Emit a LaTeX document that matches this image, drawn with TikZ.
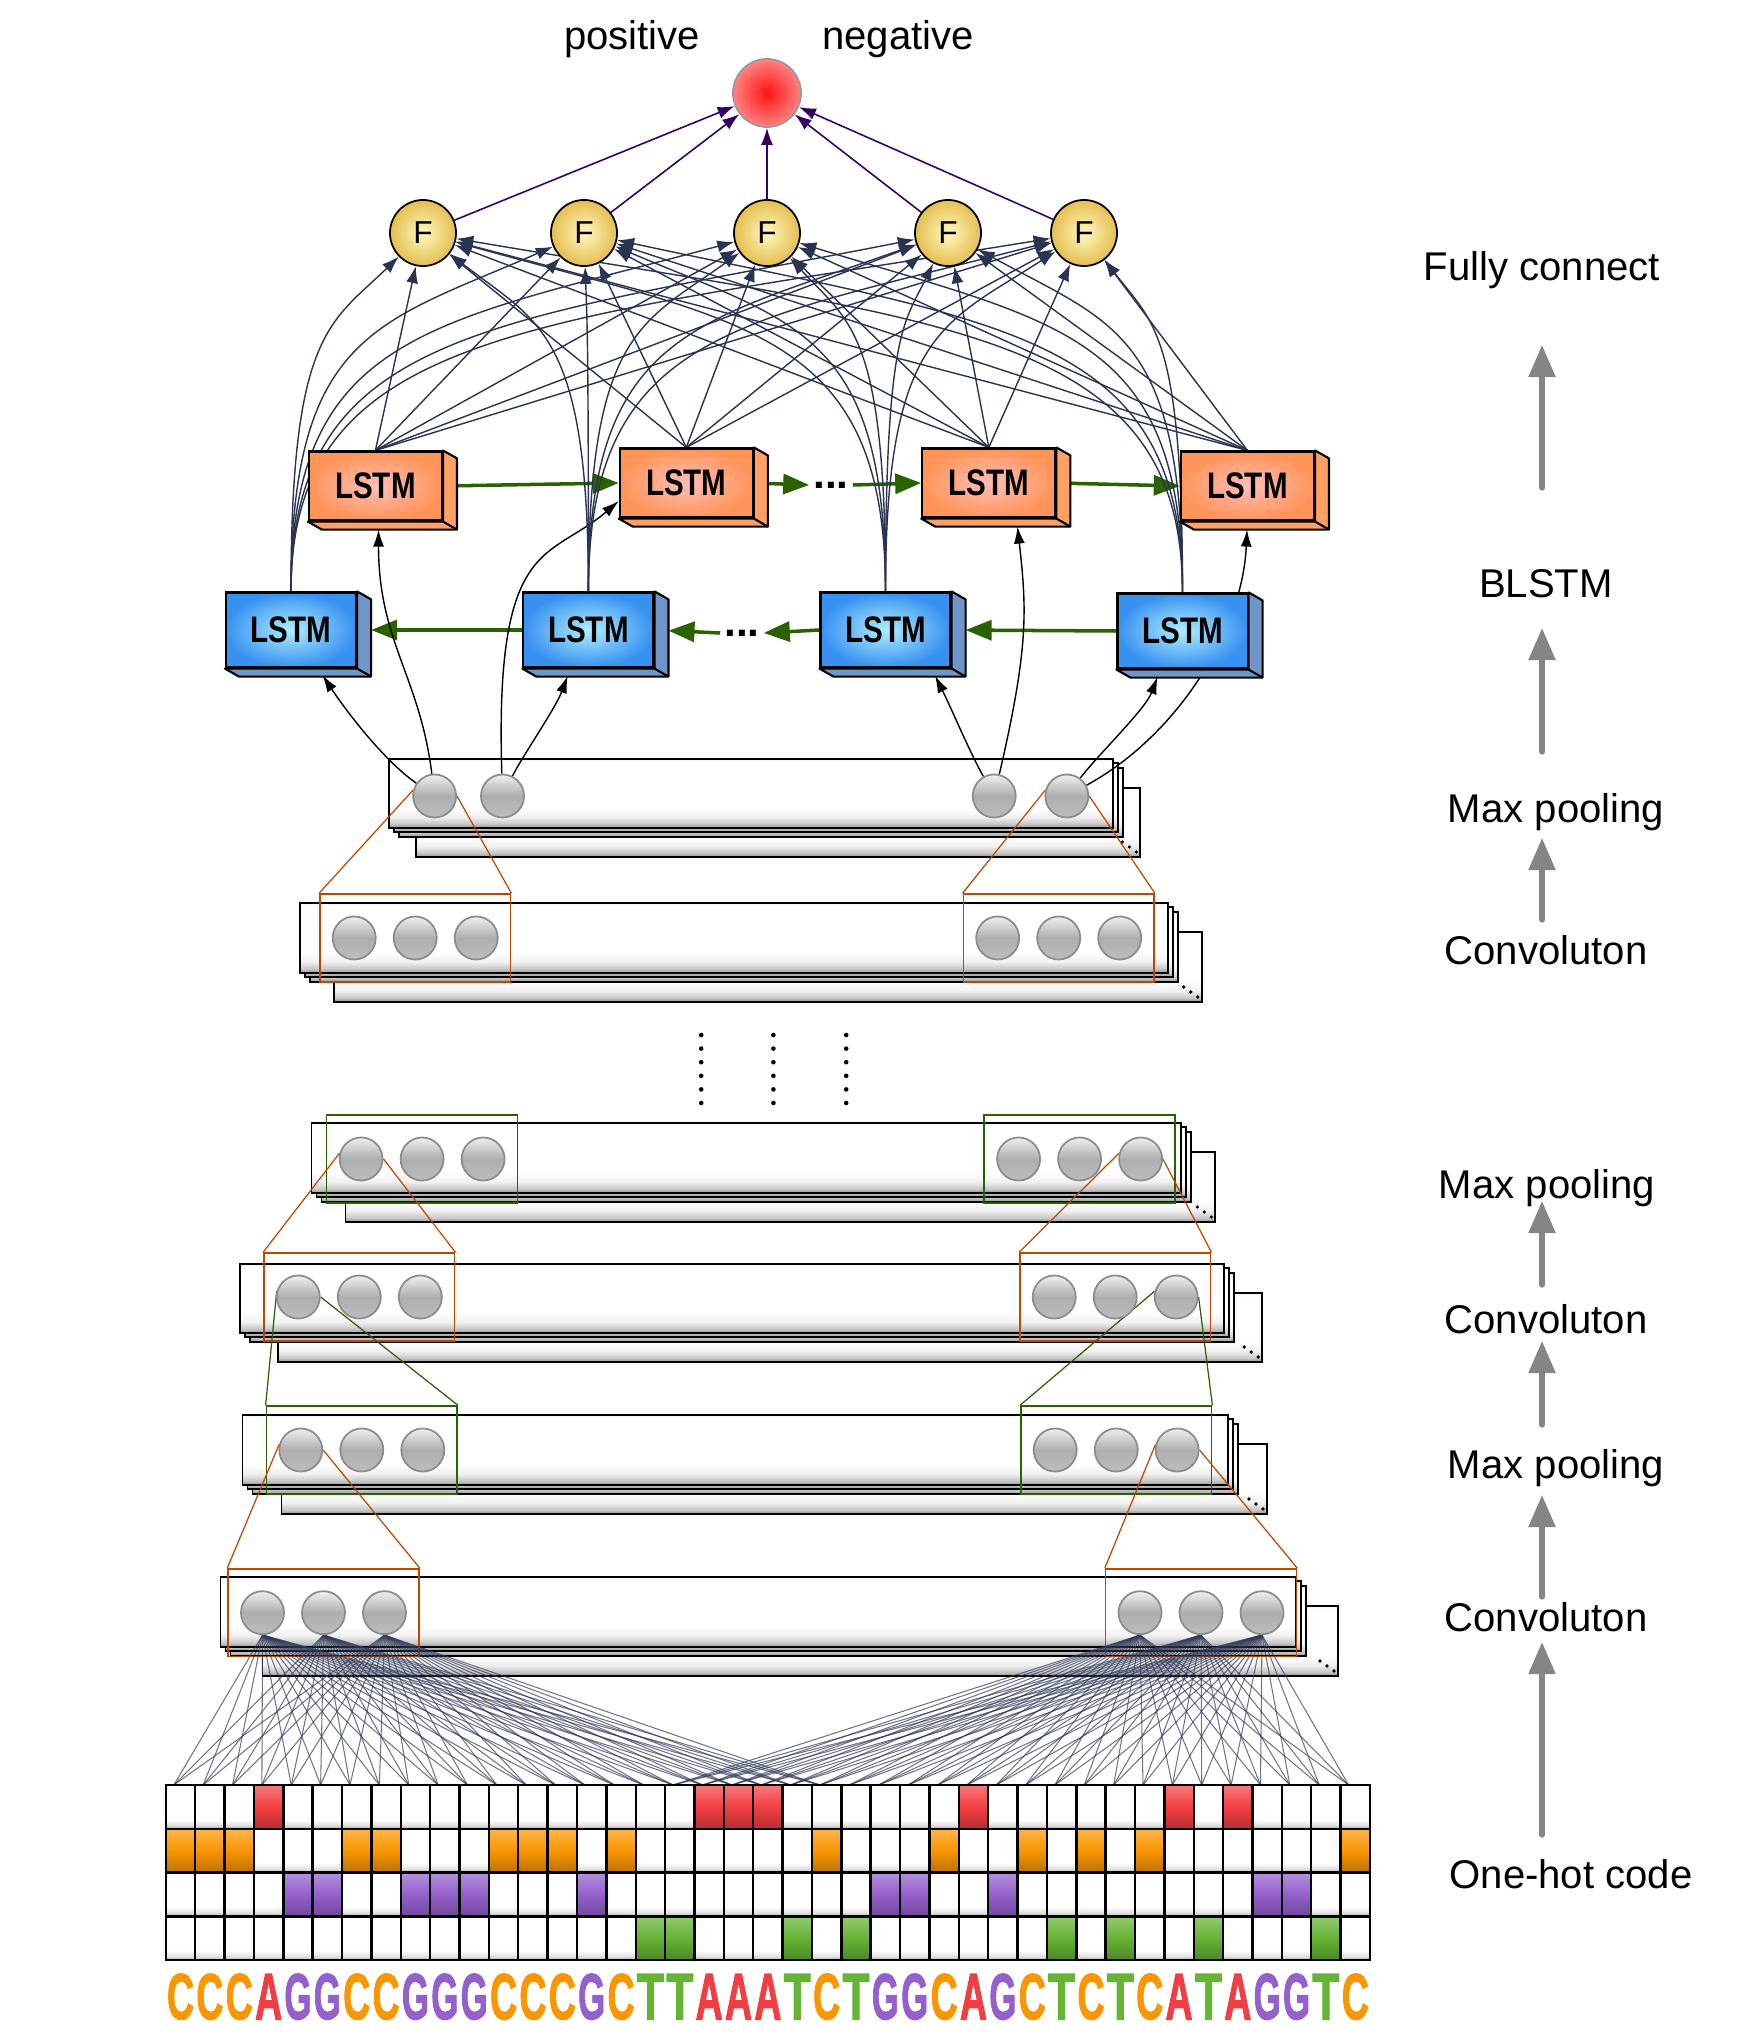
\documentclass[tikz,border=0pt]{standalone}
\usepackage{graphicx}
\usepackage{fontspec}
\setmainfont{Liberation Sans}
\newfontfamily\nucfont[FakeBold=2]{Liberation Sans}
\usetikzlibrary{arrows.meta,calc,fit}

\pgfdeclarelayer{sheets}
\pgfdeclarelayer{links}
\pgfsetlayers{sheets,links,main}

\definecolor{edgecol}{RGB}{42,52,82}
\definecolor{purp}{RGB}{51,0,102}
\definecolor{leaf}{RGB}{42,98,0}
\definecolor{frameo}{RGB}{190,72,0}
\definecolor{frameg}{RGB}{42,98,0}
\definecolor{wirecol}{RGB}{50,60,90}
\definecolor{colA}{RGB}{242,62,66}
\definecolor{colC}{RGB}{250,150,0}
\definecolor{colG}{RGB}{148,96,204}
\definecolor{colT}{RGB}{102,180,52}
\definecolor{fin}{RGB}{255,248,190}
\definecolor{fout}{RGB}{228,190,80}
\definecolor{resin}{RGB}{255,20,20}
\definecolor{resout}{RGB}{255,130,130}
\definecolor{oin}{RGB}{255,190,185}
\definecolor{oout}{RGB}{255,148,88}
\definecolor{oside}{RGB}{255,160,100}
\definecolor{bin}{RGB}{175,238,255}
\definecolor{bout}{RGB}{55,145,240}
\definecolor{bside}{RGB}{110,150,200}

\pgfdeclareverticalshading{sheetshade}{100bp}{color(0bp)=(black!42); color(25bp)=(black!42); color(28bp)=(black!22); color(33bp)=(black!6); color(40bp)=(white); color(72bp)=(white); color(75bp)=(black!4); color(100bp)=(black!4)}
\pgfdeclareverticalshading{cellshade}{100bp}{color(0bp)=(black!35); color(25bp)=(black!35); color(29bp)=(black!12); color(36bp)=(white); color(100bp)=(white)}

\newcommand{\labfont}{\fontsize{11.4}{13}\selectfont}
\newcommand{\lstmfont}{\fontsize{10.5}{11}\selectfont\bfseries}
\def\rowA{1}\def\rowC{2}\def\rowG{3}\def\rowT{4}

% stack of sheets: front sheet corners, shift of the last sheet
\newcommand{\sheetstack}[5]{%
  \begin{pgfonlayer}{sheets}
    \draw[sheet] (#1+#5,#2+29) rectangle (#3+#5,#4+29);
    \draw[sheet] (#1+10,#2+9) rectangle (#3+10,#4+9);
    \draw[sheet] (#1+5,#2+4) rectangle (#3+5,#4+4);
    \draw[sheet] (#1,#2) rectangle (#3,#4);
    \foreach \d/\e in {18/15,11/10,4/5} \fill (#3+#5-\d,#4+29-\e) circle (1.8);
  \end{pgfonlayer}}

% three units on the left, three on the right
\newcommand{\neurons}[4]{%
  \foreach \nn in {1,2,3} {
    \pgfmathtruncatemacro\mm{\nn+3}
    \node[unit] (#1\nn) at ({#2+61*(\nn-1)},#4) {};
    \node[unit] (#1\mm) at ({#3+61*(\nn-1)},#4) {};
  }}

% LSTM block with depth
\newcommand{\lstm}[5]{%
  \node[#4] (#1) at (#2,#3) {\scalebox{0.8}[1]{LSTM}};
  \filldraw[fill=#5, line width=0.6pt, line join=round] (#1.north east) -- ++(14,8)
    -- ($(#1.south east)+(14,8)$) -- ($(#1.south west)+(14,8)$) -- (#1.south west) -- (#1.south east) -- cycle;
  \draw[line width=0.6pt] (#1.south east) -- ++(14,8);}

\begin{document}
\begin{tikzpicture}[x=0.01cm, y=-0.01cm,
  sheet/.style={draw=black, line width=0.5pt, shading=sheetshade, shade},
  unit/.style={circle, draw=black!45, line width=0.5pt, minimum size=0.43cm, inner sep=0,
    top color=black!6, bottom color=black!26, middle color=black!32},
  fnode/.style={circle, draw=black, line width=0.5pt, minimum size=0.66cm, inner sep=0,
    inner color=fin, outer color=fout, font=\fontsize{9}{9}\selectfont},
  res/.style={circle, draw=black!40, line width=0.5pt, minimum size=0.68cm, inner sep=0,
    inner color=resin, outer color=resout},
  lstmo/.style={draw=black, line width=0.6pt, minimum width=1.33cm, minimum height=0.69cm,
    inner sep=0, inner color=oin, outer color=oout, font=\lstmfont},
  lstmb/.style={draw=black, line width=0.6pt, minimum width=1.3cm, minimum height=0.75cm,
    inner sep=0, inner color=bin, outer color=bout, font=\lstmfont},
  fe/.style={edgecol, line width=0.4pt, -{Latex[length=0.17cm,width=0.12cm]}},
  fo/.style={purp, line width=0.45pt, -{Latex[length=0.17cm,width=0.12cm]}},
  ki/.style={black, line width=0.4pt, -{Latex[length=0.17cm,width=0.11cm]}, shorten >=0.08cm},
  rec/.style={leaf, line width=1pt, -{Triangle[length=0.26cm,width=0.2cm]}},
  dotsn/.style={inner sep=1pt, font=\fontsize{12}{12}\selectfont\bfseries},
  oframe/.style={draw=frameo, line width=0.45pt, inner xsep=0.12cm, inner ysep=0.215cm},
  gframe/.style={draw=frameg, line width=0.45pt, inner xsep=0.12cm, inner ysep=0.215cm},
  ofun/.style={frameo, line width=0.35pt},
  gfun/.style={frameg, line width=0.35pt},
  wire/.style={wirecol, line width=0.3pt, opacity=0.7},
  cell/.style={draw=black, line width=0.7pt, shading=cellshade, shade},
  nt/.style={inner sep=0},
  lab/.style={anchor=base, font=\labfont},
  uparr/.style={draw=black!48, line width=1.5pt, line cap=round, -{Triangle[length=0.32cm,width=0.26cm]}}]

\begin{pgfonlayer}{sheets}
\fill[white] (0,0) rectangle (1740,2040);
\end{pgfonlayer}
\useasboundingbox (0,0) rectangle (1740,2040);

% Output
\node[res] (res) at (767,93) {};
\node[lab] (pos) at (632,50) {positive};
\node[lab] (neg) at (898,50) {negative};

% Fully connected units
\foreach \j/\x in {1/423,2/584,3/767,4/948,5/1084} \node[fnode] (f\j) at (\x,233) {F};

% Forward LSTMs
\lstm{o1}{375.4}{486}{lstmo}{oside}
\lstm{o2}{686.3}{483}{lstmo}{oside}
\lstm{o3}{988.8}{483}{lstmo}{oside}
\lstm{o4}{1247.4}{486}{lstmo}{oside}
\node[dotsn] (odots) at (831,485) {...};

% Backward LSTMs
\lstm{b1}{291}{630}{lstmb}{bside}
\lstm{b2}{588.4}{630}{lstmb}{bside}
\lstm{b3}{885.5}{630}{lstmb}{bside}
\lstm{b4}{1182.5}{631}{lstmb}{bside}
\node[dotsn] (bdots) at (742,633) {...};

% Pooling and convolution layers
\sheetstack{388.8}{759}{1113.3}{828}{27}
\sheetstack{299.8}{903}{1167.7}{973}{34}
\sheetstack{311.5}{1123}{1181.3}{1193}{34}
\sheetstack{240.3}{1264}{1224.2}{1333}{38}
\sheetstack{242.5}{1415}{1228}{1485}{39}
\sheetstack{220.4}{1577}{1296}{1647}{42}

\node[unit] (t1) at (434.6,796) {};
\node[unit] (t2) at (502.5,796) {};
\node[unit] (t3) at (994.2,796) {};
\node[unit] (t4) at (1066.8,796) {};
\neurons{k}{354.2}{997.7}{938}
\neurons{m}{361.1}{1018.6}{1159}
\neurons{n}{298.3}{1054.2}{1297}
\neurons{r}{300.8}{1055.2}{1450}
\neurons{q}{262.5}{1140}{1612.7}

% Receptive fields
\begin{pgfonlayer}{links}
\node[oframe, fit=(k1)(k3)] (fk1) {};
\node[oframe, fit=(k4)(k6)] (fk2) {};
\node[gframe, fit=(m1)(m3)] (fm1) {};
\node[gframe, fit=(m4)(m6)] (fm2) {};
\node[oframe, fit=(n1)(n3)] (fn1) {};
\node[oframe, fit=(n4)(n6)] (fn2) {};
\node[gframe, fit=(r1)(r3)] (fr1) {};
\node[gframe, fit=(r4)(r6)] (fr2) {};
\node[oframe, fit=(q1)(q3)] (fq1) {};
\node[oframe, fit=(q4)(q6)] (fq2) {};
\draw[ofun] (fk1.north west) -- (t1.165) (fk1.north east) -- (t1.east);
\draw[ofun] (fk2.north west) -- (t4.165) (fk2.north east) -- (t4.east);
\draw[ofun] (fn1.north west) -- (m1.165) (fn1.north east) -- (m1.east);
\draw[ofun] (fn2.north west) -- (m6.165) (fn2.north east) -- (m6.east);
\draw[gfun] (fr1.north west) -- (n1.165) (fr1.north east) -- (n1.east);
\draw[gfun] (fr2.north west) -- (n6.165) (fr2.north east) -- (n6.east);
\draw[ofun] (fq1.north west) -- (r1.165) (fq1.north east) -- (r1.east);
\draw[ofun] (fq2.north west) -- (r6.165) (fq2.north east) -- (r6.east);
\end{pgfonlayer}

% Skipped layers
\foreach \x in {701.2,773.4,846.2}
  \foreach \d in {0,...,5} \fill (\x,1035+13.6*\d) circle (2.3);

\begin{pgfonlayer}{links}
% Recurrence
\draw[rec] (o1.east) -- (o2.west);
\draw[rec] (o2.east) -- (odots.west);
\draw[rec] (odots.east) -- (o3.west);
\draw[rec] (o3.east) -- (o4.west);
\draw[rec, shorten >=0.14cm] (b2.west) -- (b1.east);
\draw[rec] (b3.west) -- (bdots.east);
\draw[rec, shorten >=0.14cm] (bdots.west) -- (b2.east);
\draw[rec, shorten >=0.14cm] (b4.west) -- (b3.east);

% Pooling to LSTMs
\draw[ki] (t1) .. controls +(-50,-35) and +(30,45) .. (b1.-55);
\draw[ki] (t1) .. controls +(-15,-120) and +(0,120) .. (o1.-85);
\draw[ki] (t2) .. controls +(20,-40) and +(-15,40) .. (b2.-115);
\draw[ki, shorten >=0pt] (t2) .. controls +(-8,-260) and +(-70,60) .. (o2.195);
\draw[ki] (t3) .. controls +(-25,-45) and +(20,40) .. (b3.-40);
\draw[ki] (t3) .. controls +(35,-150) and +(10,90) .. (o3.-52);
\draw[ki] (t4) .. controls +(30,-40) and +(-15,40) .. (b4.-120);
\draw[ki] (t4) .. controls +(110,-60) and +(-5,110) .. (o4.south);

% LSTMs to fully connected
\foreach \i in {1,...,4}
  \foreach \j in {1,...,5} \draw[fe] (o\i.north) -- (f\j);
\foreach \i/\bx in {1/291,2/588.4,3/885.5,4/1182.5}
  \foreach \j/\fx in {1/423,2/584,3/767,4/948,5/1084} {
    \pgfmathsetmacro\dx{0.7*(\bx-\fx)}
    \draw[fe] (b\i.north) .. controls +(0,-260) and +(\dx,90) .. (f\j);
  }
\foreach \j in {1,...,5} \draw[fo] (f\j) -- (res);
\end{pgfonlayer}

% One-hot code
\foreach \nuc [count=\ci] in {C,C,C,A,G,G,C,C,G,G,G,C,C,C,G,C,T,T,A,A,A,T,C,T,G,G,C,A,G,C,T,C,T,C,A,T,A,G,G,T,C} {
  \pgfmathsetmacro\xl{165.8+29.37*(\ci-1)}
  \pgfmathsetmacro\xr{\xl+29.37}
  \pgfmathsetmacro\xm{\xl+14.68}
  \foreach \rr in {1,...,4} \draw[cell] (\xl,{1785+43.75*(\rr-1)}) rectangle (\xr,{1785+43.75*\rr});
  \pgfmathsetmacro\yt{1785+43.75*(\csname row\nuc\endcsname-1)}
  \draw[draw=black, line width=0.7pt, top color=col\nuc!70!white, bottom color=col\nuc!75!black, middle color=col\nuc]
    (\xl,\yt) rectangle (\xr,\yt+43.75);
  \coordinate (top\ci) at (\xl+8,1785);
  \node[nt, text=col\nuc] (s\ci) at (\xm,1996.7) {\resizebox{0.27cm}{0.453cm}{\nucfont\bfseries\nuc}};
}

\begin{pgfonlayer}{links}
\foreach \i in {1,2,3}
  \foreach \ci in {1,...,23} \draw[wire] (q\i.south) -- (top\ci);
\foreach \i in {4,5,6}
  \foreach \ci in {18,...,41} \draw[wire] (q\i.south) -- (top\ci);
\end{pgfonlayer}

% Layer names
\node[lab] (lfc) at (1542,281) {Fully connect};
\node[lab] (lbl) at (1546,597) {BLSTM};
\node[lab] (lmp1) at (1556,822) {Max pooling};
\node[lab] (lcv1) at (1546,964) {Convoluton};
\node[lab] (lmp2) at (1547,1198) {Max pooling};
\node[lab] (lcv2) at (1546,1333) {Convoluton};
\node[lab] (lmp3) at (1556,1478) {Max pooling};
\node[lab] (lcv3) at (1546,1631) {Convoluton};
\node[lab] (loh) at (1571,1888) {One-hot code};
\foreach \a/\b in {488/345,752/628,920/838,1285/1201,1425/1341,1597/1495,1835/1642}
  \draw[uparr] (1542,\a) -- (1542,\b);
\end{tikzpicture}
\end{document}
